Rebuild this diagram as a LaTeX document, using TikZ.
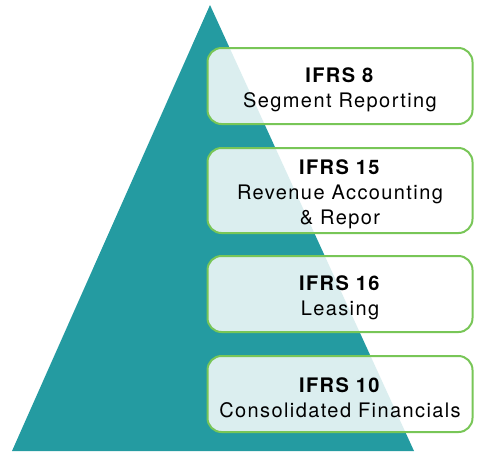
\documentclass[tikz,border=0pt]{standalone}
\usepackage{fontspec}
\setmainfont{TeX Gyre Heros}[LetterSpace=7]
\usetikzlibrary{positioning}
\definecolor{pyramidteal}{HTML}{249BA1}
\definecolor{boxgreen}{HTML}{78C657}
\newcommand{\ifrshead}[1]{\rule{0pt}{23pt}\textbf{#1}}
\tikzset{
	every node/.style = {font=\fontsize{20}{25}\selectfont},
	ifrsbox/.style = {draw=boxgreen, line width=2pt, rounded corners=14pt, fill=white, fill opacity=0.84, text opacity=1, minimum width=265pt, minimum height=76pt, align=center, inner sep=0pt}
}

\begin{document}
\begin{tikzpicture}[x=1pt, y=-1pt]
		\useasboundingbox (0,0) rectangle (478,451);
		% pyramid
		\coordinate (apex) at (210,5);
		\coordinate (baseleft) at (12,451);
		\coordinate (baseright) at (414,451);
		\fill[pyramidteal] (apex) -- (baseleft) -- (baseright) -- cycle;
		% standards
		\node[ifrsbox] (ifrs8) at (340,86) {\ifrshead{IFRS 8}\\Segment Reporting};
		\node[ifrsbox, minimum height=85pt, below=22pt of ifrs8] (ifrs15) {\ifrshead{IFRS 15}\\Revenue Accounting\\\& Repor};
		\node[ifrsbox, below=21pt of ifrs15] (ifrs16) {\ifrshead{IFRS 16}\\Leasing};
		\node[ifrsbox, below=22pt of ifrs16] (ifrs10) {\ifrshead{IFRS 10}\\Consolidated Financials};
	\end{tikzpicture}
\end{document}
